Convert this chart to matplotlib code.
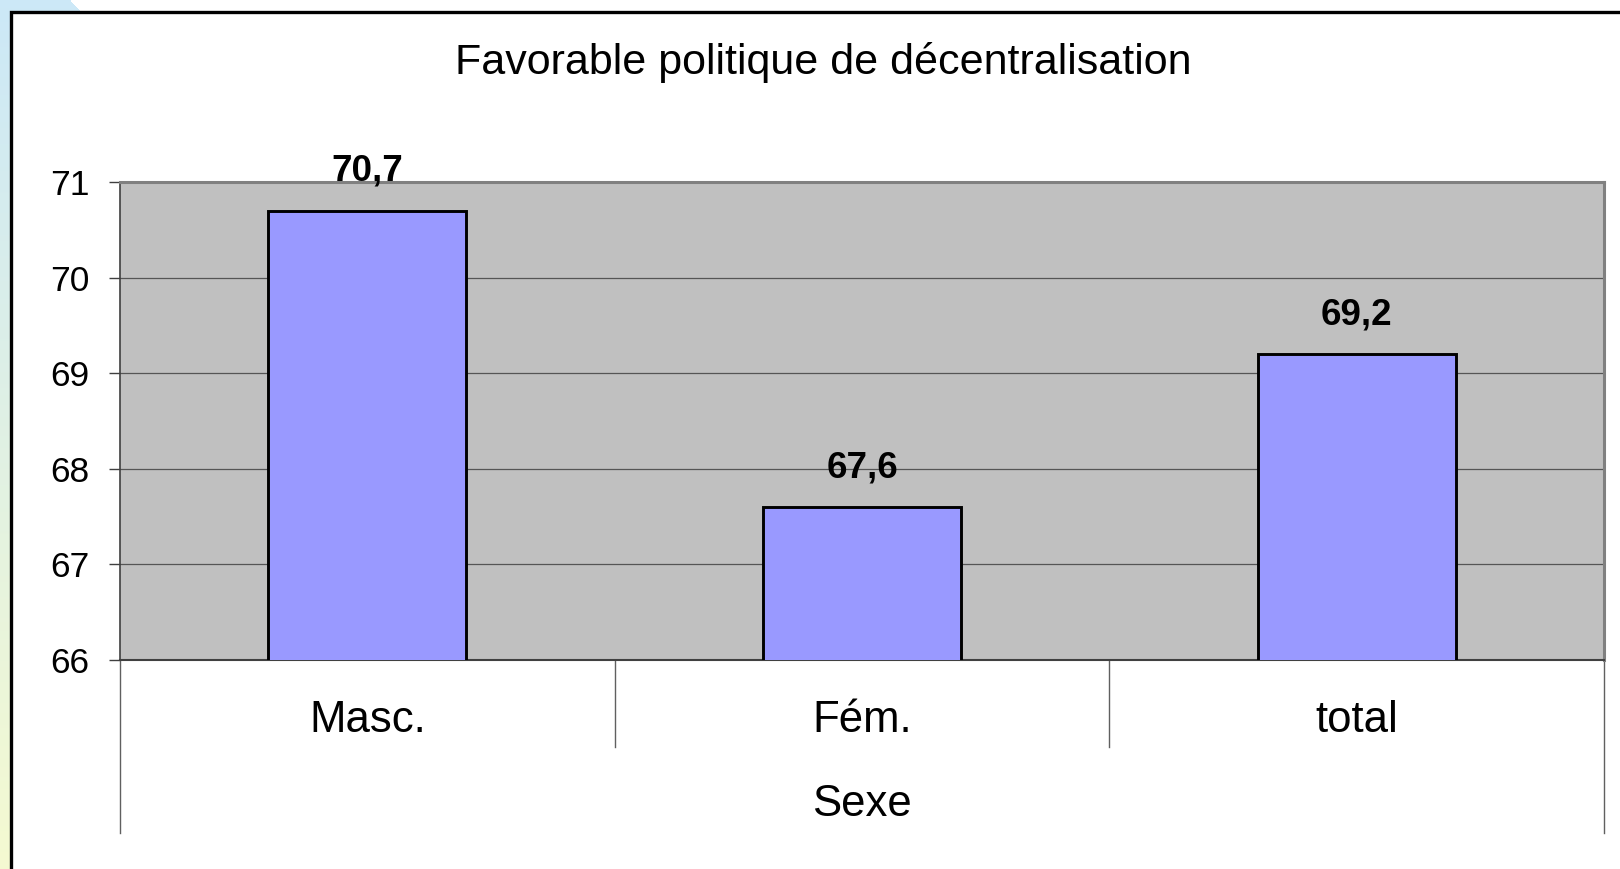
import numpy as np
import matplotlib
matplotlib.use("Agg")
import matplotlib.pyplot as plt
import matplotlib.transforms as mtransforms
from matplotlib.patches import Rectangle

# data
categories = ["Masc.", "Fém.", "total"]
values = [70.7, 67.6, 69.2]
value_labels = ["70,7", "67,6", "69,2"]
yticks = [66, 67, 68, 69, 70, 71]
title = "Favorable politique de décentralisation"
axis_title = "Sexe"

W, H = 1620, 869
plt.rcParams["font.family"] = ["Liberation Sans", "DejaVu Sans"]

fig = plt.figure(figsize=(W / 100, H / 100), dpi=100)

# slide background (gradient blue -> pale yellow, white corner at top)
bg = fig.add_axes([0, 0, 1, 1], zorder=-10)
yy, xx = np.mgrid[0:H, 0:W]
t = (yy / H)[..., None]
top = np.array([0.80, 0.91, 0.97])
bot = np.array([0.96, 0.98, 0.82])
img = top * (1 - t) + bot * t
img[xx > 70 + yy * 0.9] = 1.0
bg.imshow(img, aspect="auto", extent=[0, 1, 0, 1], origin="upper")
bg.set_axis_off()

# chart frame, cut off at right and bottom
fig.patches.append(Rectangle((11 / W, -0.1), 1.2, (H - 12) / H + 0.1, transform=fig.transFigure,
                             facecolor="white", edgecolor="black", linewidth=2.4, zorder=-5))

ax = fig.add_axes([120 / W, 209 / H, 1484 / W, 478 / H])
ax.set_facecolor("#C0C0C0")
x = np.arange(len(categories))
ax.bar(x, values, width=0.4, bottom=0, color="#9999FF", edgecolor="black", linewidth=2.1, zorder=3)
ax.set_xlim(-0.5, len(categories) - 0.5)
ax.set_ylim(66, 71)
ax.set_yticks(yticks)
ax.yaxis.grid(True, color="#555555", linewidth=0.9, zorder=1)
ax.set_axisbelow(True)
ax.tick_params(axis="y", labelsize=25.5, pad=14, length=8, width=1, color="#404040")
ax.set_xticks([])

for side in ["top", "right"]:
    ax.spines[side].set_color("#808080")
    ax.spines[side].set_linewidth(2.2)
ax.spines["left"].set_color("#404040")
ax.spines["left"].set_linewidth(1.2)
ax.spines["bottom"].set_color("#404040")
ax.spines["bottom"].set_linewidth(1.5)

for xi, v, lab in zip(x, values, value_labels):
    ax.annotate(lab, (xi, v), xytext=(0, 21.5), textcoords="offset points",
                ha="center", va="baseline", fontsize=26.5, fontweight="bold", zorder=5)

# multi-level category axis
trans = mtransforms.blended_transform_factory(ax.transData, fig.transFigure)
for i, b in enumerate(np.arange(len(categories) + 1) - 0.5):
    outer = i == 0 or i == len(categories)
    y_end = (H - 833) / H if outer else (H - 747) / H
    ax.plot([b, b], [209 / H, y_end], transform=trans, color="#606060", linewidth=1, clip_on=False)
for xi, c in zip(x, categories):
    ax.text(xi, (H - 732) / H, c, transform=trans, ha="center", va="baseline", fontsize=31.5)
ax.text(np.mean(x), (H - 816.5) / H, axis_title, transform=trans, ha="center", va="baseline", fontsize=31.5)

fig.text(823 / W, (H - 74.3) / H, title, ha="center", va="baseline", fontsize=31)

fig.savefig("out.png", dpi=100)
